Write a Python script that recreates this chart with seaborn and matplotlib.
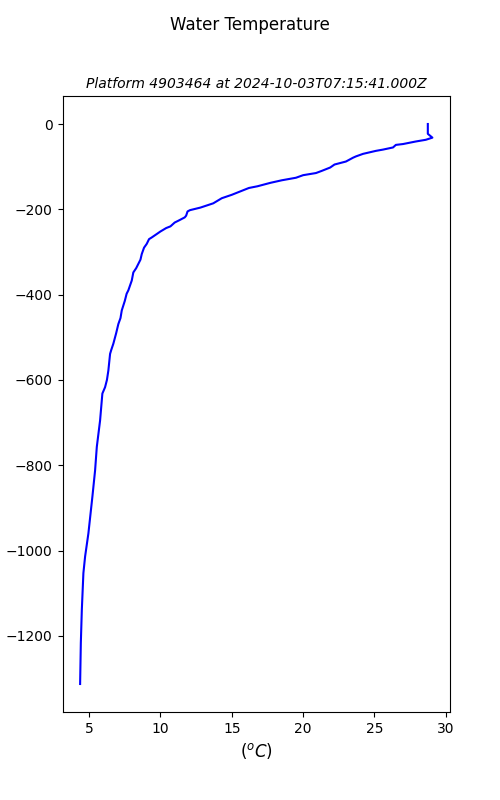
import matplotlib
matplotlib.use('Agg')
import matplotlib.pyplot as plt
import seaborn as sns
import pandas as pd

# profile (depth in m, temperature in degC)
depth = [0, 23, 32, 37, 41, 47, 49, 55, 60, 63, 70, 76, 79, 88, 95, 102, 110,
         115, 120, 126, 132, 138, 146, 150, 158, 166, 174, 186, 196, 202, 205,
         215, 219, 226, 231, 240, 244, 252, 258, 266, 270, 281, 290, 305, 318,
         328, 338, 348, 367, 390, 398, 415, 437, 455, 469, 490, 515, 530, 539,
         578, 600, 617, 632, 695, 757, 812, 874, 960, 1014, 1053, 1139, 1217,
         1313]
temp = [28.74, 28.74, 29.06, 28.6, 27.9, 27.0, 26.5, 26.3, 25.6, 25.1, 24.2,
        23.7, 23.5, 23.0, 22.2, 21.9, 21.3, 20.9, 20.0, 19.5, 18.5, 17.7,
        16.8, 16.2, 15.6, 15.0, 14.3, 13.7, 12.8, 12.07, 11.9, 11.8, 11.7,
        11.3, 11.0, 10.7, 10.4, 10.0, 9.74, 9.39, 9.2, 9.04, 8.85, 8.69, 8.6,
        8.45, 8.3, 8.1, 7.99, 7.75, 7.63, 7.5, 7.29, 7.2, 7.05, 6.9, 6.7,
        6.55, 6.47, 6.35, 6.25, 6.12, 5.93, 5.77, 5.54, 5.42, 5.23, 4.95,
        4.72, 4.6, 4.49, 4.42, 4.37]

platform = '4903464'
timestamp = '2024-10-03T07:15:41.000Z'


def main():
    df = pd.DataFrame({'temp': temp, 'z': [-d for d in depth]})

    fig, ax = plt.subplots(figsize=(5, 8), dpi=100)
    sns.lineplot(data=df, x='temp', y='z', sort=False, estimator=None,
                 color='blue', linewidth=1.5, ax=ax)

    fig.suptitle('Water Temperature')
    ax.set_title('Platform ' + platform + ' at ' + timestamp, fontsize=10, style='italic')
    ax.set_xlabel('$(^oC)$', fontsize=12)
    ax.set_ylabel('depth (m)')

    plt.savefig('out.png', dpi=100)
    plt.close()


if __name__ == '__main__':
    main()
